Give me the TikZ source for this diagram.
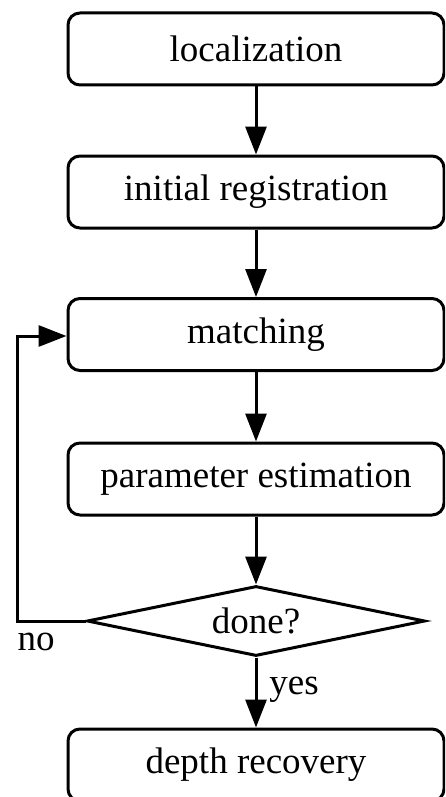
\documentclass[tikz,border=0pt]{standalone}
\usepackage{fontspec}
\setmainfont{Liberation Serif}
\usetikzlibrary{shapes.geometric,arrows.meta}
\begin{document}
\begin{tikzpicture}[x=1pt,y=-1pt,
  box/.style={draw,line width=3pt,rounded corners=12pt,minimum width=376pt,minimum height=72pt,inner sep=0pt,font=\fontsize{37}{40}\selectfont},
  dec/.style={draw,diamond,line width=3pt,aspect=4.83,minimum width=338pt,minimum height=70pt,inner sep=0pt,font=\fontsize{37}{40}\selectfont},
  lbl/.style={font=\fontsize{37}{40}\selectfont,inner sep=0pt},
  flow/.style={line width=3pt,-{Triangle[length=28pt,width=21pt]}}]
\useasboundingbox (0,0) rectangle (445,797);
\clip (0,0) rectangle (445,797);
\node[box] (loc) at (256,49) {localization};
\node[box] (init) at (256,192) {initial registration};
\node[box] (match) at (256,334.5) {matching};
\node[box] (param) at (256,479) {parameter estimation};
\node[dec] (done) at (256,621) {done?};
\node[box] (depth) at (256,765) {depth recovery};
\coordinate (c1) at (17,621);
\coordinate (c2) at (17,336);
\draw[flow] (loc) -- (init);
\draw[flow] (init) -- (match);
\draw[flow] (match) -- (param);
\draw[flow] (param) -- (done);
\draw[flow] (done) -- (depth);
\draw[flow,line join=miter] (done.west) -- (c1) -- (c2) -- (match.west |- c2);
\node[lbl] (no) at (36,642) {no};
\node[lbl] (yes) at (294,690) {yes};
\end{tikzpicture}
\end{document}
